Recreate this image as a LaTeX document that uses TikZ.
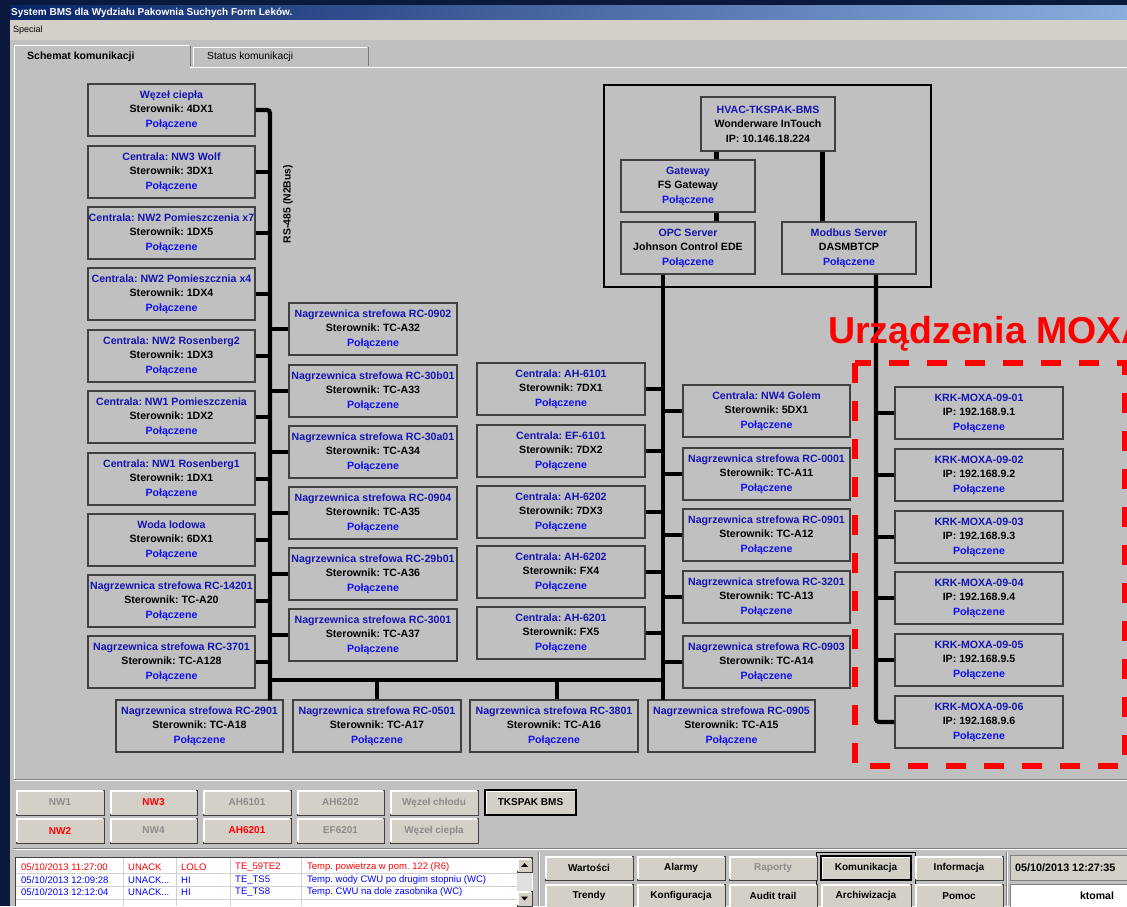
\documentclass[tikz,border=0pt]{standalone}
\usepackage{fontspec}
\setmainfont{Liberation Sans}
\usetikzlibrary{calc}
\frenchspacing
\definecolor{bodyg}{HTML}{C0C0C0}
\definecolor{btng}{HTML}{D4D0C8}
\definecolor{framec}{HTML}{0B1A3C}
\definecolor{tbl}{HTML}{0A246A}
\definecolor{tbr}{HTML}{88AEDD}
\definecolor{ttl}{HTML}{1414B4}
\definecolor{okc}{HTML}{1010F0}
\definecolor{bord}{HTML}{404040}
\definecolor{dimtxt}{HTML}{8C8C8C}
\definecolor{alred}{HTML}{FF0000}
\definecolor{alblue}{HTML}{0000FF}
\newcommand\boxfnt{\fontsize{10.6}{14.5}\selectfont\bfseries}
\newcommand\btnfnt{\fontsize{10}{12}\selectfont\bfseries}
\newcommand\alfnt{\fontsize{9.5}{11}\selectfont}
\newcommand\bx[7]{\node[dev, minimum width={#4-#2}, minimum height={#5-#3}] (#1) at ({(#2+#4)/2},{(#3+#5)/2}) {\textcolor{ttl}{#6}\\#7\\\textcolor{okc}{Połączene}};}
\newcommand\btn[7]{%
  \node[btn, minimum width={#4-#2}, minimum height={#5-#3}, text=#6] (#1) at ({(#2+#4)/2},{(#3+#5)/2}) {#7};
  \draw[white, line width=1.2pt] ([shift={(1.3,-1.3)}]#1.south west) -- ([shift={(1.3,1.3)}]#1.north west) -- ([shift={(-1.3,1.3)}]#1.north east);}
\newcommand\alrow[8]{%
  \node[al, text=#3] (a#1d) at (21,#2) {#4};
  \node[al, text=#3] (a#1s) at (128,#2) {#5};
  \node[al, text=#3] (a#1p) at (181,#2) {#6};
  \node[al, text=#3] (a#1t) at (235,#2) {#7};
  \node[al, text=#3] (a#1x) at (307,#2) {#8};}
\begin{document}
\begin{tikzpicture}[x=1pt,y=-1pt,
  dev/.style={draw=bord, line width=1.3pt, fill=bodyg, inner sep=0pt, align=center, font=\boxfnt},
  bus/.style={line width=4.2pt, rounded corners=3pt},
  tbus/.style={line width=5pt},
  txt/.style={inner sep=0pt},
  btn/.style={draw=bord, fill=btng, line width=0.8pt, inner sep=0pt, font=\btnfnt},
  al/.style={anchor=west, inner sep=0pt, font=\alfnt}]
\useasboundingbox (0,0) rectangle (1127,906);
% window frame
\fill[framec] (0,0) rectangle (1127,906);
\shade[left color=tbl, right color=tbr] (10,5) rectangle (1127,20);
\node[txt, anchor=west, text=white, font=\fontsize{10}{12}\selectfont\bfseries] (title) at (11,13) {System BMS dla Wydziału Pakownia Suchych Form Leków.};
\fill[btng] (10,20) rectangle (1127,40);
\node[txt, anchor=west, font=\fontsize{9}{11}\selectfont] (menu) at (13,30.5) {Special};
\fill[bodyg] (10,40) rectangle (1127,906);
% tabs and panel
\draw[white, line width=1pt] (14,779) -- (14,45) -- (189,45);
\draw[bord!70, line width=1pt] (190,46) -- (190,66);
\draw[white, line width=1pt] (190,67) -- (1127,67);
\draw[white, line width=1pt] (193,66) -- (193,47) -- (367,47);
\draw[bord!70, line width=1pt] (368,47) -- (368,66);
\draw[gray, line width=1pt] (14,779) -- (1127,779);
\draw[white, line width=1pt] (14,780.5) -- (1127,780.5);
\node[txt, anchor=west, font=\fontsize{10.5}{12}\selectfont\bfseries] (tab1) at (27,57) {Schemat komunikacji};
\node[txt, anchor=west, font=\fontsize{10.3}{12}\selectfont] (tab2) at (207,57) {Status komunikacji};
% top server group
\draw[black, line width=1.8pt] (604,85) rectangle (931,287);
\node[dev, minimum width=134, minimum height=54] (HV) at (768,124) {\textcolor{ttl}{HVAC-TKSPAK-BMS}\\Wonderware InTouch\\IP: 10.146.18.224};
\bx{GW}{621}{160}{755}{212}{Gateway}{FS Gateway}
\bx{OPC}{621}{222}{755}{274}{OPC Server}{Johnson Control EDE}
\bx{MB}{782}{222}{916}{274}{Modbus Server}{DASMBTCP}
% left column
\bx{L1}{88}{84}{255}{136}{Węzeł ciepła}{Sterownik: 4DX1}
\bx{L2}{88}{146}{255}{198}{Centrala: NW3 Wolf}{Sterownik: 3DX1}
\bx{L3}{88}{207}{255}{259}{Centrala: NW2 Pomieszczenia x7}{Sterownik: 1DX5}
\bx{L4}{88}{268}{255}{320}{Centrala: NW2 Pomieszcznia x4}{Sterownik: 1DX4}
\bx{L5}{88}{330}{255}{382}{Centrala: NW2 Rosenberg2}{Sterownik: 1DX3}
\bx{L6}{88}{391}{255}{443}{Centrala: NW1 Pomieszczenia}{Sterownik: 1DX2}
\bx{L7}{88}{453}{255}{505}{Centrala: NW1 Rosenberg1}{Sterownik: 1DX1}
\bx{L8}{88}{514}{255}{566}{Woda lodowa}{Sterownik: 6DX1}
\bx{L9}{88}{575}{255}{627}{Nagrzewnica strefowa RC-14201}{Sterownik: TC-A20}
\bx{L10}{88}{636}{255}{688}{Nagrzewnica strefowa RC-3701}{Sterownik: TC-A128}
% second column
\bx{M1}{289}{303}{457}{355}{Nagrzewnica strefowa RC-0902}{Sterownik: TC-A32}
\bx{M2}{289}{365}{457}{417}{Nagrzewnica strefowa RC-30b01}{Sterownik: TC-A33}
\bx{M3}{289}{426}{457}{478}{Nagrzewnica strefowa RC-30a01}{Sterownik: TC-A34}
\bx{M4}{289}{487}{457}{539}{Nagrzewnica strefowa RC-0904}{Sterownik: TC-A35}
\bx{M5}{289}{548}{457}{600}{Nagrzewnica strefowa RC-29b01}{Sterownik: TC-A36}
\bx{M6}{289}{609}{457}{661}{Nagrzewnica strefowa RC-3001}{Sterownik: TC-A37}
% third column
\bx{C1}{477}{363}{645}{415}{Centrala: AH-6101}{Sterownik: 7DX1}
\bx{C2}{477}{425}{645}{477}{Centrala: EF-6101}{Sterownik: 7DX2}
\bx{C3}{477}{486}{645}{538}{Centrala: AH-6202}{Sterownik: 7DX3}
\bx{C4}{477}{546}{645}{598}{Centrala: AH-6202}{Sterownik: FX4}
\bx{C5}{477}{607}{645}{659}{Centrala: AH-6201}{Sterownik: FX5}
% fourth column
\bx{D1}{683}{385}{850}{437}{Centrala: NW4 Golem}{Sterownik: 5DX1}
\bx{D2}{683}{448}{850}{500}{Nagrzewnica strefowa RC-0001}{Sterownik: TC-A11}
\bx{D3}{683}{509}{850}{561}{Nagrzewnica strefowa RC-0901}{Sterownik: TC-A12}
\bx{D4}{683}{571}{850}{623}{Nagrzewnica strefowa RC-3201}{Sterownik: TC-A13}
\bx{D5}{683}{636}{850}{688}{Nagrzewnica strefowa RC-0903}{Sterownik: TC-A14}
% bottom row
\bx{B1}{116}{700}{283}{752}{Nagrzewnica strefowa RC-2901}{Sterownik: TC-A18}
\bx{B2}{293}{700}{461}{752}{Nagrzewnica strefowa RC-0501}{Sterownik: TC-A17}
\bx{B3}{470}{700}{638}{752}{Nagrzewnica strefowa RC-3801}{Sterownik: TC-A16}
\bx{B4}{648}{700}{815}{752}{Nagrzewnica strefowa RC-0905}{Sterownik: TC-A15}
% MOXA column
\bx{X1}{895}{387}{1063}{439}{KRK-MOXA-09-01}{IP: 192.168.9.1}
\bx{X2}{895}{449}{1063}{501}{KRK-MOXA-09-02}{IP: 192.168.9.2}
\bx{X3}{895}{511}{1063}{563}{KRK-MOXA-09-03}{IP: 192.168.9.3}
\bx{X4}{895}{572}{1063}{624}{KRK-MOXA-09-04}{IP: 192.168.9.4}
\bx{X5}{895}{634}{1063}{686}{KRK-MOXA-09-05}{IP: 192.168.9.5}
\bx{X6}{895}{696}{1063}{748}{KRK-MOXA-09-06}{IP: 192.168.9.6}
% buses
\coordinate (ba) at (270,700);
\coordinate (ha) at (270,680);
\coordinate (hc) at (663,680);
\coordinate (bc) at (663,700);
\coordinate (gx) at (716,0);
\coordinate (mxa) at (822,0);
\coordinate (mx) at (876,0);
\draw[bus] (L1.east) -| (ba);
\foreach \i in {2,...,10} \draw[bus] (L\i.east) -- (L\i.east -| ba);
\foreach \i in {1,...,6} \draw[bus] (M\i.west) -- (M\i.west -| ba);
\draw[bus] (ha) -- (hc);
\draw[bus] (B2.north) -- (B2.north |- ha);
\draw[bus] ([xshift=3]B3.north) -- ([xshift=3]B3.north |- ha);
\draw[bus] (OPC.south -| bc) -- (bc);
\foreach \i in {1,...,5} \draw[bus] (C\i.east) -- (C\i.east -| bc);
\foreach \i in {1,...,5} \draw[bus] (D\i.west) -- (D\i.west -| bc);
\draw[tbus] (HV.south -| gx) -- (GW.north -| gx);
\draw[tbus] (GW.south -| gx) -- (OPC.north -| gx);
\draw[tbus] (HV.south -| mxa) -- (MB.north -| mxa);
\draw[bus] (MB.south -| mx) |- (X6.west);
\foreach \i in {1,...,5} \draw[bus] (X\i.west) -- (X\i.west -| mx);
\node[txt, rotate=90, font=\fontsize{10.4}{12}\selectfont\bfseries] (rs) at (288,204) {RS-485 (N2Bus)};
% MOXA area
\draw[alred, line width=6pt, dash pattern=on 20pt off 18pt] (855,363) rectangle (1125,766);
\node[txt, anchor=base west, text=alred, font=\fontsize{37.5}{40}\selectfont\bfseries] (moxa) at (828,343) {Urządzenia MOXA};
% lower buttons
\btn{bNWa}{16}{790}{104}{815}{dimtxt}{NW1}
\btn{bNWc}{110}{790}{197}{815}{alred}{NW3}
\btn{bAHa}{203}{790}{291}{815}{dimtxt}{AH6101}
\btn{bAHb}{297}{790}{384}{815}{dimtxt}{AH6202}
\btn{bWch}{390}{790}{478}{815}{dimtxt}{Węzeł chłodu}
\btn{bTK}{485}{790}{576}{815}{black}{TKSPAK BMS}
\draw[black, line width=2pt] (bTK.south west) rectangle (bTK.north east);
\btn{bNWb}{16}{818}{104}{843}{alred}{NW2}
\btn{bNWd}{110}{818}{197}{843}{dimtxt}{NW4}
\btn{bAHc}{203}{818}{291}{843}{alred}{AH6201}
\btn{bEF}{297}{818}{384}{843}{dimtxt}{EF6201}
\btn{bWci}{390}{818}{478}{843}{dimtxt}{Węzeł ciepła}
% grooves
\draw[gray, line width=1pt] (13,848) -- (1127,848);
\draw[white, line width=1pt] (13,849.5) -- (1127,849.5);
\draw[gray, line width=1pt] (538,852) -- (538,906);
\draw[white, line width=1pt] (539.5,852) -- (539.5,906);
\draw[gray, line width=1pt] (1006,852) -- (1006,906);
\draw[white, line width=1pt] (1007.5,852) -- (1007.5,906);
% alarm list
\fill[white] (15,857) rectangle (533,906);
\draw[bord, line width=1pt] (15,906) -- (15,857) -- (533,857);
\foreach \x in {123,176,230,301} \draw[gray!35] (\x,858) -- (\x,906);
\foreach \y in {873.5,886,899} \draw[gray!35] (16,\y) -- (517,\y);
\alrow{1}{867}{alred}{05/10/2013 11:27:00}{UNACK}{LOLO}{TE\_59TE2}{Temp. powietrza w pom. 122 (R6)}
\alrow{2}{880}{alblue}{05/10/2013 12:09:28}{UNACK...}{HI}{TE\_TS5}{Temp. wody CWU po drugim stopniu (WC)}
\alrow{3}{892}{alblue}{05/10/2013 12:12:04}{UNACK...}{HI}{TE\_TS8}{Temp. CWU na dole zasobnika (WC)}
\fill[gray!25] (517,872) rectangle (532,891);
\btn{sUp}{517}{858}{532}{872}{black}{}
\btn{sDn}{517}{891}{532}{906}{black}{}
\fill[black] ($(sUp.center)+(-3.5,1.8)$) -- ($(sUp.center)+(3.5,1.8)$) -- ($(sUp.center)+(0,-1.8)$) -- cycle;
\fill[black] ($(sDn.center)+(-3.5,-1.8)$) -- ($(sDn.center)+(3.5,-1.8)$) -- ($(sDn.center)+(0,1.8)$) -- cycle;
% right buttons
\draw[black, line width=0.8pt] (816,906) -- (816,852) -- (915,852) -- (915,906);
\btn{rW}{545}{856}{633}{880}{black}{Wartości}
\btn{rA}{637}{856}{725}{880}{black}{Alarmy}
\btn{rR}{729}{856}{817}{880}{dimtxt}{Raporty}
\btn{rK}{821}{856}{911}{880}{black}{Komunikacja}
\draw[black, line width=2pt] (rK.south west) rectangle (rK.north east);
\btn{rI}{915}{856}{1003}{880}{black}{Informacja}
\btn{rT}{545}{884}{633}{908}{black}{Trendy}
\btn{rKo}{637}{884}{725}{908}{black}{Konfiguracja}
\btn{rAu}{729}{884}{817}{908}{black}{Audit trail}
\btn{rAr}{821}{884}{911}{908}{black}{Archiwizacja}
\btn{rP}{915}{884}{1003}{908}{black}{Pomoc}
% date and user
\filldraw[fill=btng, draw=gray, line width=0.8pt] (1010,855) rectangle (1140,880);
\node[txt, anchor=west, font=\fontsize{10.8}{12}\selectfont\bfseries] (dt) at (1015,867.5) {05/10/2013 12:27:35};
\filldraw[fill=white, draw=gray, line width=0.8pt] (1010,884) rectangle (1140,912);
\node[txt, font=\fontsize{10.5}{12}\selectfont\bfseries] (usr) at (1097,896) {ktomal};
\end{tikzpicture}
\end{document}
